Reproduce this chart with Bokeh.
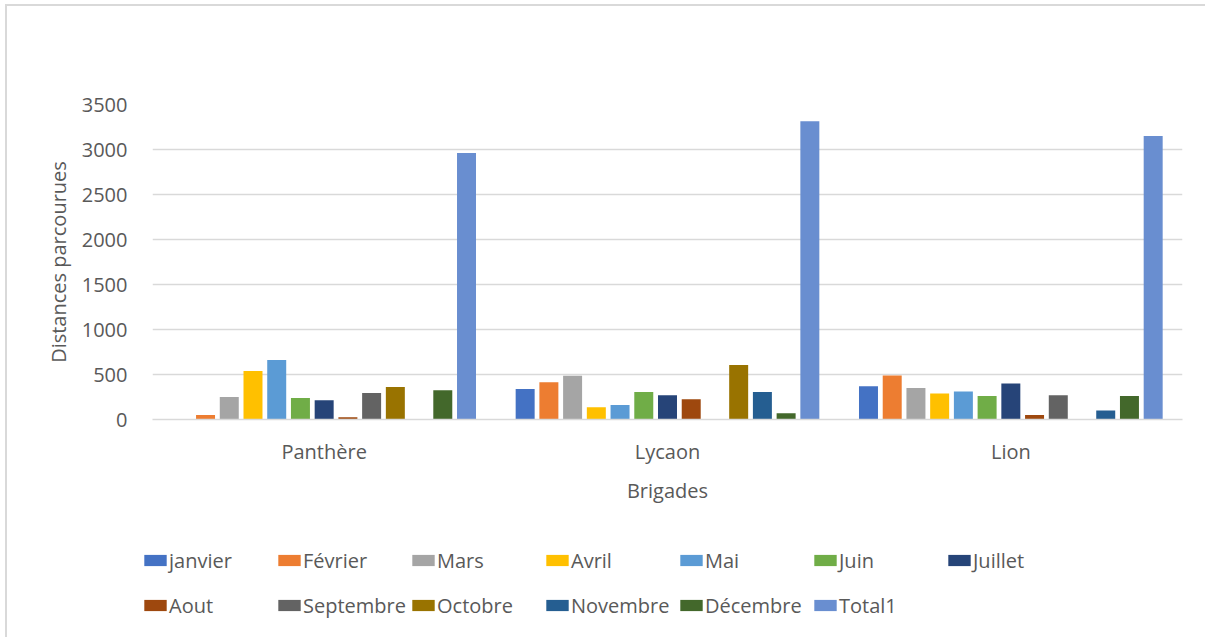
from bokeh.plotting import figure
from bokeh.layouts import column
from bokeh.models import FactorRange, Range1d, Legend, LegendItem, ColumnDataSource, SingleIntervalTicker
from bokeh.transform import dodge
from bokeh.embed import file_html
from bokeh.resources import INLINE

# Distances parcourues par brigade et par mois
brigades = ["Panthère", "Lycaon", "Lion"]
months = ["janvier", "Février", "Mars", "Avril", "Mai", "Juin", "Juillet",
          "Aout", "Septembre", "Octobre", "Novembre", "Décembre", "Total1"]

janvier   = [0, 340, 370]
fevrier   = [50, 415, 490]
mars      = [250, 485, 350]
avril     = [540, 135, 290]
mai       = [660, 160, 310]
juin      = [240, 305, 260]
juillet   = [215, 270, 400]
aout      = [25, 225, 50]
septembre = [295, 0, 270]
octobre   = [360, 605, 0]
novembre  = [0, 305, 100]
decembre  = [325, 70, 260]
total1    = [2960, 3315, 3150]

series = [janvier, fevrier, mars, avril, mai, juin, juillet,
          aout, septembre, octobre, novembre, decembre, total1]

colors = ["#4472C4", "#ED7D31", "#A5A5A5", "#FFC000", "#5B9BD5", "#70AD47",
          "#264478", "#9E480E", "#636363", "#997300", "#255E91", "#43682B",
          "#698ED0"]

FONT = "Open Sans"
TEXT = "#595959"
GRID = "#d9d9d9"

W = 1198
H_CHART = 520
H_LEGEND = 111

data = {"brigade": brigades}
for i, vals in enumerate(series):
    data[f"m{i}"] = vals
source = ColumnDataSource(data)

p = figure(
    x_range=FactorRange(*brigades, range_padding=0),
    y_range=Range1d(0, 3500),
    width=W, height=H_CHART,
    output_backend="svg", toolbar_location=None,
    min_border_left=145, min_border_right=23,
    min_border_top=98, min_border_bottom=H_CHART - 413,
    background_fill_color="white", border_fill_color="white",
)
p.outline_line_color = None
p.frame_align = False

step = 0.0691
bar_w = 0.0553
for i, col in enumerate(colors):
    p.vbar(x=dodge("brigade", (i - 6) * step, range=p.x_range),
           top=f"m{i}", width=bar_w, source=source,
           fill_color=col, line_color=None)

# axes
p.yaxis.ticker = SingleIntervalTicker(interval=500)
p.yaxis.axis_line_color = None
p.yaxis.major_tick_line_color = None
p.yaxis.minor_tick_line_color = None
p.yaxis.major_label_standoff = 19
p.yaxis.major_label_text_font = FONT
p.yaxis.major_label_text_font_size = "20px"
p.yaxis.major_label_text_color = TEXT
p.yaxis.axis_label = "Distances parcourues"
p.yaxis.axis_label_text_font = FONT
p.yaxis.axis_label_text_font_size = "20px"
p.yaxis.axis_label_text_font_style = "normal"
p.yaxis.axis_label_text_color = TEXT
p.yaxis.axis_label_standoff = 7

p.xaxis.axis_line_color = GRID
p.xaxis.axis_line_width = 1.5
p.xaxis.major_tick_line_color = None
p.xaxis.minor_tick_line_color = None
p.xaxis.major_label_standoff = 12
p.xaxis.major_label_text_font = FONT
p.xaxis.major_label_text_font_size = "20px"
p.xaxis.major_label_text_color = TEXT
p.xaxis.axis_label = "Brigades"
p.xaxis.axis_label_text_font = FONT
p.xaxis.axis_label_text_font_size = "20px"
p.xaxis.axis_label_text_font_style = "normal"
p.xaxis.axis_label_text_color = TEXT
p.xaxis.axis_label_standoff = 9

p.xgrid.grid_line_color = None
p.ygrid.grid_line_color = GRID
p.ygrid.grid_line_width = 1.5

# legend strip: hidden copies of the series supply the legend swatches
pl = figure(
    x_range=FactorRange(*brigades, range_padding=0),
    y_range=Range1d(0, 3500),
    width=W, height=H_LEGEND,
    output_backend="svg", toolbar_location=None,
    x_axis_location=None, y_axis_location=None,
    min_border=0, background_fill_color="white", border_fill_color="white",
)
pl.outline_line_color = None
pl.grid.visible = False
pl.frame_align = False
swatches = []
for i, col in enumerate(colors):
    r = pl.vbar(x=dodge("brigade", (i - 6) * step, range=pl.x_range),
                top=f"m{i}", width=bar_w, source=source,
                fill_color=col, line_color=None, visible=False)
    swatches.append(r)

def legend_row(idx, vy):
    items = [LegendItem(label=months[i], renderers=[swatches[i]]) for i in idx]
    return Legend(items=items, orientation="horizontal", location=(134, vy),
                  glyph_width=28, glyph_height=14, label_standoff=0,
                  label_width=106, label_height=30, spacing=0,
                  padding=0, margin=0, click_policy="none",
                  border_line_color=None, background_fill_alpha=0,
                  label_text_font=FONT, label_text_font_size="20px",
                  label_text_color=TEXT)

pl.add_layout(legend_row(range(0, 7), 62))
pl.add_layout(legend_row(range(7, 13), 17))

layout = column(p, pl, spacing=0)
layout.styles = {"margin-left": "5px", "margin-top": "4px",
                 "border-left": "2px solid #d9d9d9", "border-top": "2px solid #d9d9d9"}

open("out.html", "w").write(file_html(layout, INLINE))
